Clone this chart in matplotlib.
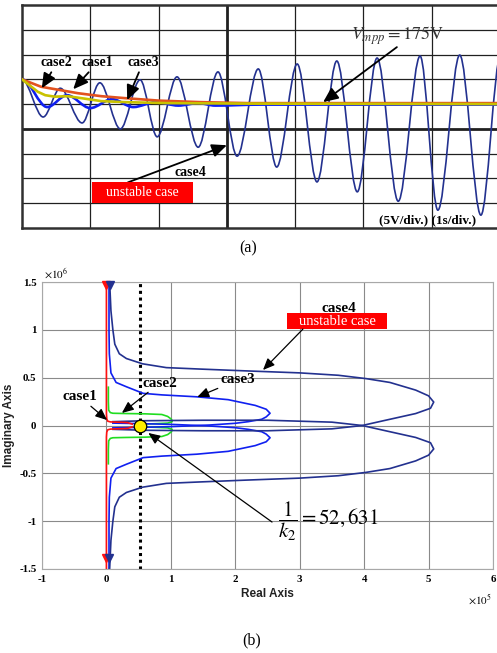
import numpy as np
import matplotlib
matplotlib.use("Agg")
import matplotlib.pyplot as plt
from matplotlib.path import Path
from matplotlib.patches import PathPatch, Rectangle

plt.rcParams['font.family'] = ['Liberation Serif', 'DejaVu Serif']
plt.rcParams['mathtext.fontset'] = 'stix'
plt.rcParams['axes.unicode_minus'] = False

# ---------------- (a) time response, t in s (1s/div), v in V (5V/div)
# case4: extrema of the growing oscillation
c4_t = [0.0, 0.31, 0.56, 0.88, 1.14, 1.44, 1.73, 1.98, 2.27, 2.58, 2.87, 3.15,
        3.46, 3.73, 4.03, 4.32, 4.61, 4.91, 5.20, 5.51, 5.83, 6.09, 6.41, 6.72, 7.01]
c4_v = [180.0, 172.4, 178.2, 171.2, 179.3, 170.0, 179.9, 168.4, 180.5, 166.3, 181.5, 164.5,
        182.1, 162.3, 183.1, 159.3, 183.7, 157.3, 184.3, 155.4, 184.7, 153.6, 184.9, 152.6, 184.9]
# case3: extrema of the damped oscillation
c3_t = [0.0, 0.37, 0.66, 1.00, 1.32, 1.63, 1.96, 2.29, 2.58, 2.83, 3.5, 7.0]
c3_v = [180.0, 174.4, 176.8, 174.2, 176.0, 174.4, 175.4, 174.7, 175.2, 174.7, 174.9, 174.9]
# case1
c1_t = [0.0, 0.28, 0.53, 0.82, 1.16, 1.51, 2.01, 2.61, 3.31, 7.0]
c1_v = [180.0, 178.5, 177.9, 177.2, 176.6, 176.2, 175.7, 175.4, 175.2, 175.2]
# case2
c2_t = [0.0, 0.23, 0.34, 0.48, 0.67, 0.92, 1.16, 1.51, 2.12, 3.31, 7.0]
c2_v = [180.0, 177.5, 176.8, 176.5, 176.6, 176.1, 175.6, 175.4, 175.2, 175.1, 175.0]

# ---------------- (b) root locus, real x1e5, imag x1e6 (upper half, mirrored)
rl1_re = [0.0, 0.0, 0.0, 0.005, 0.02, 0.06, 0.15, 0.25, 0.33, 0.40]
rl1_im = [1.5, 0.5, 0.12, 0.07, 0.045, 0.038, 0.035, 0.033, 0.03, 0.015]
rl2_re = [0.03, 0.03, 0.035, 0.06, 0.1, 0.3, 0.6, 0.86, 0.95, 1.01, 1.02, 0.95, 0.8, 0.6]
rl2_im = [0.40, 0.25, 0.16, 0.135, 0.128, 0.125, 0.122, 0.115, 0.095, 0.065, 0.04, 0.025, 0.02, 0.015]
rl3_re = [0.04, 0.04, 0.045, 0.07, 0.15, 0.31, 0.57, 0.86, 1.4, 1.89, 2.31, 2.48, 2.54,
          2.48, 2.41, 2.2, 2.0, 1.6, 1.0, 0.5, 0.1]
rl3_im = [1.5, 1.0, 0.75, 0.55, 0.45, 0.405, 0.336, 0.32, 0.30, 0.27, 0.21, 0.17, 0.128,
          0.09, 0.065, 0.04, 0.023, 0.005, -0.012, -0.02, -0.025]
rl4_re = [0.05, 0.07, 0.10, 0.13, 0.2, 0.31, 0.56, 0.93, 1.45, 2.2, 3.0, 3.6, 4.03, 4.4,
          4.8, 5.0, 5.08, 5.03, 4.8, 4.3, 3.97, 3.5, 2.5, 1.5, 0.6, 0.1]
rl4_im = [1.5, 1.2, 1.0, 0.85, 0.75, 0.70, 0.645, 0.605, 0.59, 0.57, 0.55, 0.525, 0.49, 0.45,
          0.37, 0.31, 0.245, 0.18, 0.125, 0.05, 0.0, -0.035, -0.055, -0.055, -0.05, -0.04]
k2_inv = 52631 / 1e5

xt_b = [-1, 0, 1, 2, 3, 4, 5, 6]
yt_b = [-1.5, -1, -0.5, 0, 0.5, 1, 1.5]
yt_lab = ['-1.5', '-1', '-0.5', '0', '0.5', '1', '1.5']

navy = '#23318f'
blue = '#1020f0'


def smooth_path(ts, vs):
    verts = [(ts[0], vs[0])]
    codes = [Path.MOVETO]
    for i in range(len(ts) - 1):
        dt = ts[i + 1] - ts[i]
        verts += [(ts[i] + dt / 3, vs[i]), (ts[i + 1] - dt / 3, vs[i + 1]), (ts[i + 1], vs[i + 1])]
        codes += [Path.CURVE4] * 3
    return Path(verts, codes)


fig = plt.figure(figsize=(4.97, 6.53), dpi=100)

# ================= (a)
ax = fig.add_axes([22 / 497, 1 - 228 / 653, 478 / 497, 223 / 653])
ax.set_xlim(0, 7)
ax.set_ylim(150, 195)
for t in range(1, 7):
    ax.axvline(t, color='#202020', lw=2.0 if t == 3 else 0.9, zorder=0)
for v in range(155, 195, 5):
    ax.axhline(v, color='#202020', lw=2.0 if v == 170 else 0.9, zorder=0)
ax.set_xticks([])
ax.set_yticks([])
for s in ax.spines.values():
    s.set_color('#303030')
    s.set_linewidth(1.8)

ax.add_patch(PathPatch(smooth_path(c4_t, c4_v), fc='none', ec=navy, lw=1.2, zorder=2))
ax.add_patch(PathPatch(smooth_path(c3_t, c3_v), fc='none', ec=blue, lw=1.9, zorder=3))
ax.plot(c1_t, c1_v, color='#e2521f', lw=1.9, zorder=4)
ax.plot(c2_t, c2_v, color='#c9c200', lw=1.9, zorder=5)

aprops = dict(arrowstyle='-|>,head_length=0.9,head_width=0.4', color='black', lw=1.3,
              shrinkA=0, shrinkB=0, mutation_scale=10)
ax.annotate('case2', xy=(0.29, 178.2), xytext=(0.51, 183.3), ha='center', va='center',
            fontsize=10, fontweight='bold', arrowprops=aprops, zorder=6)
ax.annotate('case1', xy=(0.75, 178.0), xytext=(1.10, 183.3), ha='center', va='center',
            fontsize=10, fontweight='bold', arrowprops=aprops, zorder=6)
ax.annotate('case3', xy=(1.54, 175.8), xytext=(1.77, 183.3), ha='center', va='center',
            fontsize=10, fontweight='bold', arrowprops=aprops, zorder=6)
ax.text(2.46, 161.1, 'case4', ha='center', va='center', fontsize=10, fontweight='bold', zorder=6)
ax.annotate('', xy=(3.00, 166.7), xytext=(1.55, 159.2), arrowprops=aprops, zorder=6)
ax.add_patch(Rectangle((1.02, 155.0), 1.48, 4.3, fc='#ff0000', ec='none', zorder=6))
ax.text(1.76, 157.15, 'unstable case', color='white', ha='center', va='center', fontsize=9.8, zorder=7)
ax.annotate('', xy=(4.41, 175.4), xytext=(5.49, 186.5), arrowprops=aprops, zorder=6)
ax.text(5.49, 188.9, r'$V_{mpp}=\mathrm{175V}$', ha='center', va='center', fontsize=13,
        color='#333333', zorder=6)
ax.text(5.94, 151.6, '(5V/div.) (1s/div.)', ha='center', va='center', fontsize=9.5,
        fontweight='bold', zorder=6)

fig.text(248 / 497, 1 - 248 / 653, '(a)', ha='center', va='center', fontsize=11.5)

# ================= (b)
bx = fig.add_axes([42 / 497, 1 - 569 / 653, 451 / 497, 287 / 653])
bx.set_xlim(-1, 6)
bx.set_ylim(-1.5, 1.5)
bx.set_xticks(xt_b)
bx.set_xticklabels([str(v) for v in xt_b])
bx.set_yticks(yt_b)
bx.set_yticklabels(yt_lab)
bx.grid(True, color='#8a8a8a', lw=0.8)
bx.set_axisbelow(True)
bx.tick_params(length=0, pad=4, labelsize=7.8)
for lab in bx.get_xticklabels() + bx.get_yticklabels():
    lab.set_fontweight('bold')
for s in bx.spines.values():
    s.set_color('#a8a8a8')
    s.set_linewidth(0.8)

bx.axvline(k2_inv, color='black', lw=2.2, ls=(0, (1, 1.2)), zorder=1)

for re, im, col in [(rl2_re, rl2_im, '#20dd20'), (rl3_re, rl3_im, blue),
                    (rl4_re, rl4_im, navy), (rl1_re, rl1_im, '#ff1010')]:
    re = np.array(re)
    im = np.array(im)
    bx.plot(re, im, color=col, lw=1.2, zorder=2)
    bx.plot(re, -im, color=col, lw=1.2, zorder=2)

bx.plot([0.0], [1.47], marker='v', color='#ff1010', ms=6, clip_on=False, zorder=3)
bx.plot([0.05], [1.47], marker='v', color=navy, ms=6, clip_on=False, zorder=3)
bx.plot([0.0], [-1.38], marker='v', color='#ff1010', ms=6, zorder=3)
bx.plot([0.04], [-1.38], marker='v', color=navy, ms=6, zorder=3)

bx.plot([k2_inv], [0], marker='o', ms=9, mfc='#ffee00', mec='black', mew=0.9, zorder=5)

bprops = dict(arrowstyle='-|>,head_length=0.7,head_width=0.3', color='black', lw=0.9,
              shrinkA=0, shrinkB=0, mutation_scale=10)
bx.text(3.61, 1.228, 'case4', ha='center', va='center', fontsize=11, fontweight='bold', zorder=6)
bx.add_patch(Rectangle((2.80, 1.008), 1.56, 0.168, fc='#ff0000', ec='none', zorder=6))
bx.text(3.58, 1.092, 'unstable case', color='white', ha='center', va='center', fontsize=10.5, zorder=7)
bx.annotate('', xy=(2.43, 0.58), xytext=(3.05, 1.008), arrowprops=bprops, zorder=6)
bx.annotate('case3', xy=(1.41, 0.298), xytext=(2.04, 0.476), ha='center', va='center',
            fontsize=11, fontweight='bold', arrowprops=bprops, zorder=6)
bx.annotate('case2', xy=(0.24, 0.131), xytext=(0.83, 0.444), ha='center', va='center',
            fontsize=11, fontweight='bold', arrowprops=bprops, zorder=6)
bx.annotate('case1', xy=(0.01, 0.057), xytext=(-0.41, 0.298), ha='center', va='center',
            fontsize=11, fontweight='bold', arrowprops=bprops, zorder=6)
bx.annotate('', xy=(0.65, -0.078), xytext=(2.57, -1.009), arrowprops=bprops, zorder=6)
bx.text(2.66, -0.998, r'$\dfrac{1}{k_2}=52,631$', ha='left', va='center', fontsize=15, zorder=6)

fig.text(267 / 497, 1 - 594 / 653, 'Real Axis', ha='center', va='center', fontsize=8.5,
         fontweight='bold', family=['Liberation Sans', 'DejaVu Sans'], color='#222222')
fig.text(9 / 497, 1 - 425 / 653, 'Imaginary Axis', ha='center', va='center', fontsize=8.5,
         fontweight='bold', family=['Liberation Sans', 'DejaVu Sans'], color='#222222', rotation=90)
fig.text(480 / 497, 1 - 600 / 653, r'$\times10^{5}$', ha='center', va='center', fontsize=8)
fig.text(56 / 497, 1 - 274 / 653, r'$\times10^{6}$', ha='center', va='center', fontsize=8)

fig.text(252 / 497, 1 - 640 / 653, '(b)', ha='center', va='center', fontsize=11.5)

fig.savefig('out.png', dpi=100)
